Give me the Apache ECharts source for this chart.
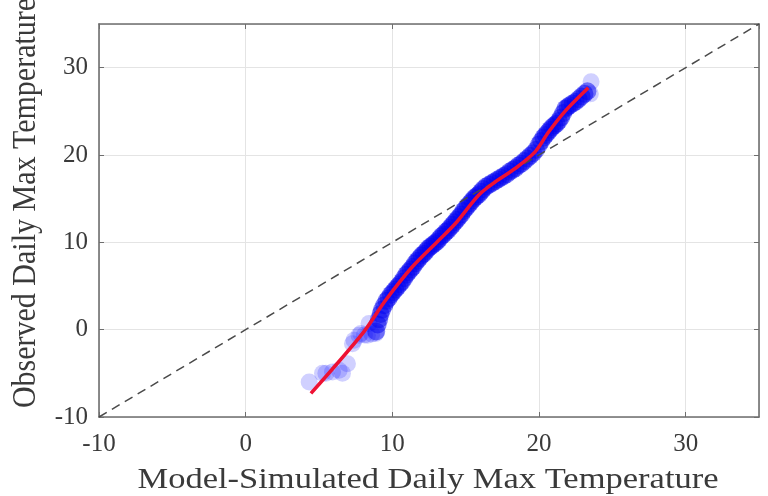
<!DOCTYPE html>
<html>
<head>
<meta charset="utf-8">
<script src="https://cdn.jsdelivr.net/npm/echarts@6/dist/echarts.min.js"></script>
<style>
html,body{margin:0;padding:0;background:#fff;}
#chart{width:768px;height:496px;}
</style>
</head>
<body>
<div id="chart"></div>
<script>
// Axis setup
var xTicks = [-10, 0, 10, 20, 30];
var yTicks = [-10, 0, 10, 20, 30];
var axisMin = -10;
var axisMax = 35;
var xTitle = 'Model-Simulated Daily Max Temperature';
var yTitle = 'Observed Daily Max Temperature';

// Reference 1:1 line
var refLine = [[-10, -10], [35, 35]];

// Q-Q points, sparse tails (model quantile, observed quantile)
var tailPoints = [
  [4.33,-6.0],[5.24,-5.0],[5.47,-5.0],[5.92,-4.85],[6.37,-4.65],[6.6,-5.0],[6.94,-3.9],
  [7.28,-1.6],[7.39,-1.2],[7.73,-0.64],[7.85,-0.45],[8.1,-0.6],[8.3,-0.64],[8.41,0.7],[8.6,-0.5],[8.87,-0.45],
  [23.5,27.0],[23.55,28.4]
];

// Q-Q points, dense body
var bodyPoints = [
  [8.9,-0.2],[9.0,0.6],[9.1,1.2],[9.2,1.8],[9.3,2.3],[9.45,2.8],[9.6,3.3],[9.75,3.6],
  [9.9,4.0],[10.05,4.3],[10.2,4.6],[10.35,4.9],[10.5,5.2],[10.65,5.5],[10.8,5.9],[10.95,6.3],
  [11.1,6.6],[11.25,6.9],[11.4,7.2],[11.55,7.6],[11.7,7.9],[11.85,8.2],[12.0,8.5],[12.15,8.7],
  [12.3,9.0],[12.45,9.3],[12.6,9.5],[12.75,9.7],[12.9,9.9],[13.05,10.1],[13.2,10.4],[13.35,10.7],
  [13.5,10.9],[13.65,11.2],[13.8,11.4],[13.95,11.7],[14.1,12.0],[14.25,12.3],[14.4,12.6],[14.55,12.9],
  [14.7,13.2],[14.85,13.6],[15.0,13.9],[15.15,14.2],[15.3,14.5],[15.45,14.8],[15.6,15.1],[15.75,15.3],
  [15.9,15.5],[16.05,15.8],[16.2,16.1],[16.4,16.4],[16.6,16.6],[16.8,16.8],[17.0,17.0],[17.2,17.2],
  [17.4,17.4],[17.6,17.6],[17.8,17.8],[18.0,18.1],[18.2,18.3],[18.4,18.5],[18.6,18.8],[18.8,19.0],
  [19.0,19.3],[19.2,19.6],[19.4,19.9],[19.6,20.2],[19.8,20.6],[20.0,21.2],[20.15,21.6],[20.3,22.0],
  [20.45,22.3],[20.6,22.6],[20.75,22.9],[20.9,23.2],[21.05,23.4],[21.2,23.6],[21.35,23.9],[21.5,24.3],
  [21.65,24.8],[21.8,25.3],[21.95,25.5],[22.1,25.7],[22.3,25.9],[22.5,26.1],[22.7,26.4],[22.9,26.7],
  [23.1,27.0],[23.3,27.3]
];

// Fitted curve through the quantiles
var fitLine = [
  [4.45,-7.3],[7.96,-0.45],[9.54,3.37],[11.35,7.18],[13.17,10.24],[14.3,12.15],[15.88,15.4],
  [17.0,16.9],[18.37,18.45],[19.73,20.36],[20.64,22.6],[21.77,25.0],[23.36,27.7]
];

var chart = echarts.init(document.getElementById('chart'), null, {renderer:'canvas'});
var serif = '"Liberation Serif", "Times New Roman", serif';
var axisColor = '#6e6e6e';
function baseAxis(pos, showLabels, ticks) {
  return {
    type: 'value', position: pos, min: axisMin, max: axisMax, interval: 10,
    axisLine: {show: true, onZero: false, lineStyle: {color: axisColor, width: 1.6}},
    axisTick: {show: true, inside: true, length: 5, lineStyle: {color: axisColor, width: 1}},
    splitLine: {show: showLabels, lineStyle: {color: '#e4e4e4', width: 1}},
    axisLabel: {
      show: showLabels, showMaxLabel: false, showMinLabel: true,
      fontFamily: serif, fontSize: 25, color: '#3a3a3a',
      formatter: function (v) { return ticks.indexOf(v) >= 0 ? String(v) : ''; }
    }
  };
}
var xa = baseAxis('bottom', true, xTicks); xa.axisLabel.margin = 15;
var ya = baseAxis('left', true, yTicks); ya.axisLabel.margin = 11;
var option = {
  animation: false,
  backgroundColor: '#fff',
  grid: {left: 99, right: 9, top: 24, bottom: 79, containLabel: false},
  xAxis: [xa, baseAxis('top', false, xTicks)],
  yAxis: [ya, baseAxis('right', false, yTicks)],
  series: [
    {type: 'line', data: refLine, symbol: 'none', silent: true,
     lineStyle: {color: '#4a4a4a', width: 1.5, type: [9, 6]}},
    {type: 'scatter', data: tailPoints, symbolSize: 17, silent: true,
     itemStyle: {color: 'rgba(20,20,255,0.25)'}},
    {type: 'scatter', data: bodyPoints, symbolSize: 18, silent: true,
     itemStyle: {color: 'rgba(0,0,240,0.6)'}},
    {type: 'line', data: fitLine, symbol: 'none', smooth: 0.3, silent: true,
     lineStyle: {color: '#ee1133', width: 3.6}}
  ],
  graphic: [
    {type: 'text', x: 428, y: 480, scaleX: 1.15,
     style: {text: xTitle, font: '30px ' + serif, fill: '#3a3a3a', textAlign: 'center', textVerticalAlign: 'middle'}},
    {type: 'text', x: 26, y: 203, rotation: Math.PI / 2, scaleY: 1.15,
     style: {text: yTitle, font: '30px ' + serif, fill: '#3a3a3a', textAlign: 'center', textVerticalAlign: 'middle'}}
  ]
};
chart.setOption(option);
</script>
</body>
</html>
